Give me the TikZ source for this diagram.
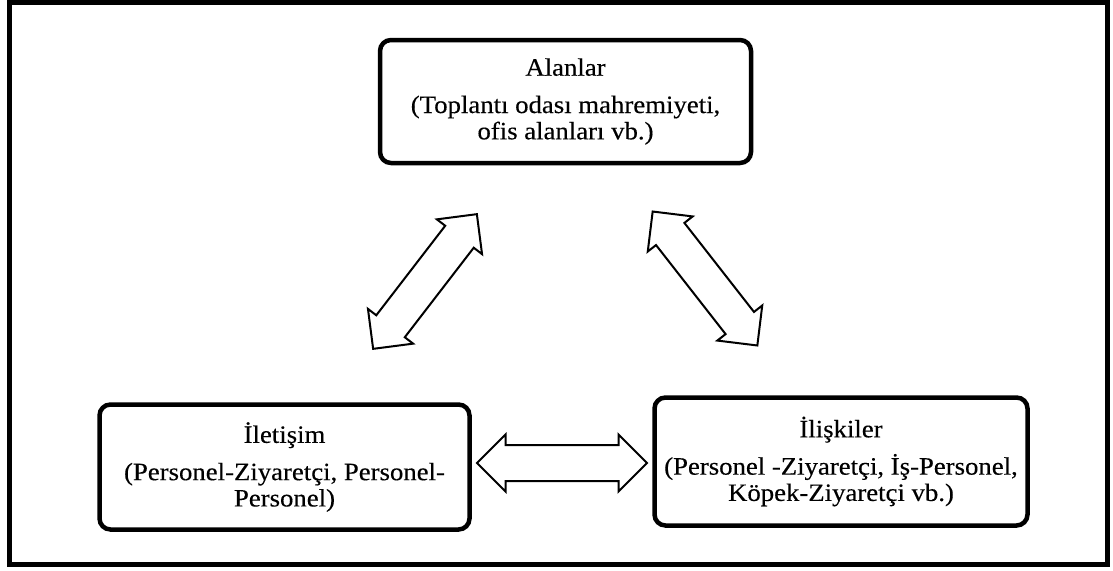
\documentclass[tikz,border=0pt]{standalone}
\usepackage{fontspec}
\setmainfont[FakeStretch=1.07,FakeBold=0.3]{Liberation Serif}
\usetikzlibrary{shapes.arrows}
\begin{document}
\begin{tikzpicture}[x=1pt,y=-1pt,
  box/.style={draw, line width=4.5pt, rounded corners=11pt, align=center,
    inner sep=0pt, font=\fontsize{25}{26.3}\selectfont, text=black},
  dblarrow/.style={shape=double arrow, draw, line width=2pt, fill=white,
    double arrow head extend=10.5pt, double arrow tip angle=90,
    minimum height=170pt, minimum width=55pt, inner xsep=0pt, inner ysep=17pt}]
\useasboundingbox (0,0) rectangle (1113,570);
\draw[line width=5pt] (9.2,2.5) rectangle (1107.5,564.2);
\node[box, minimum width=371pt, minimum height=123pt] (alan) at (565.5,101.5)
  {Alanlar\\[11pt](Toplantı odası mahremiyeti,\\ofis alanları vb.)};
\node[box, minimum width=370pt, minimum height=125pt] (ilet) at (284.5,467)
  {İletişim\\[11pt](Personel-Ziyaretçi, Personel-\\Personel)};
\node[box, minimum width=373pt, minimum height=128pt] (ilis) at (841,461.5)
  {İlişkiler\\[11pt](Personel -Ziyaretçi, İş-Personel,\\Köpek-Ziyaretçi vb.)};
\node[dblarrow, rotate=52.4] (a1) at (425,281.5) {};
\node[dblarrow, rotate=-52] (a2) at (705,278.5) {};
\node[dblarrow] (a3) at (562,463) {};
\end{tikzpicture}
\end{document}
